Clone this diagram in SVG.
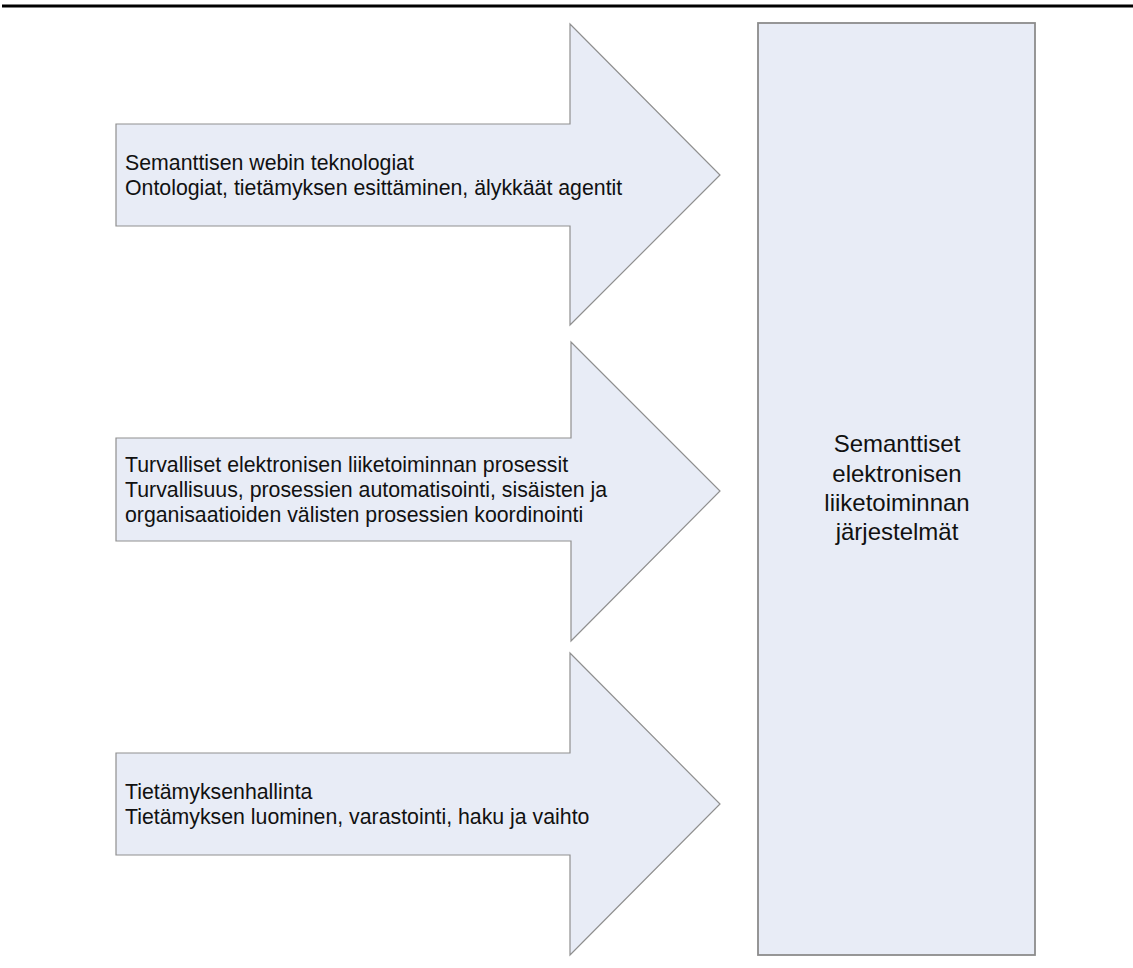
<svg xmlns="http://www.w3.org/2000/svg" width="1133" height="968" viewBox="0 0 1133 968">
  <style>
    .shape { fill: #e8ecf6; stroke: #8f8f8f; stroke-width: 1.2; stroke-linejoin: miter; }
    .box { fill: #e8ecf6; stroke: #8c8c8c; stroke-width: 1.8; }
    .lbl { font-family: "Liberation Sans", Arial, sans-serif; font-size: 21.3px; fill: #111; }
    .big { font-family: "Liberation Sans", Arial, sans-serif; font-size: 24px; fill: #111; text-anchor: middle; }
  </style>
  <rect width="1133" height="968" fill="#ffffff"/>
  <!-- header rule -->
  <line x1="2" y1="6" x2="1133" y2="6" stroke="#000" stroke-width="3"/>

  <g id="arrow-semantic-web">
    <polygon class="shape" points="116,124 570,124 570,24 720,175 570,325 570,226 116,226"/>
    <text class="lbl" x="125" y="170">Semanttisen webin teknologiat</text>
    <text class="lbl" x="125" y="195">Ontologiat, tietämyksen esittäminen, älykkäät agentit</text>
  </g>

  <g id="arrow-processes">
    <polygon class="shape" points="116,438 571,438 571,342 720,491 571,641 571,541 116,541"/>
    <text class="lbl" x="125" y="472">Turvalliset elektronisen liiketoiminnan prosessit</text>
    <text class="lbl" x="125" y="497">Turvallisuus, prosessien automatisointi, sisäisten ja</text>
    <text class="lbl" x="125" y="522">organisaatioiden välisten prosessien koordinointi</text>
  </g>

  <g id="arrow-knowledge">
    <polygon class="shape" points="116,753 570,753 570,653 720,804 570,955 570,855 116,855"/>
    <text class="lbl" x="125" y="799">Tietämyksenhallinta</text>
    <text class="lbl" x="125" y="824">Tietämyksen luominen, varastointi, haku ja vaihto</text>
  </g>

  <g id="target-systems">
    <rect class="box" x="758" y="23" width="277" height="932"/>
    <text class="big" x="897" y="452">Semanttiset</text>
    <text class="big" x="897" y="482">elektronisen</text>
    <text class="big" x="897" y="511">liiketoiminnan</text>
    <text class="big" x="897" y="540">järjestelmät</text>
  </g>

  <g id="connectors"></g>
</svg>
